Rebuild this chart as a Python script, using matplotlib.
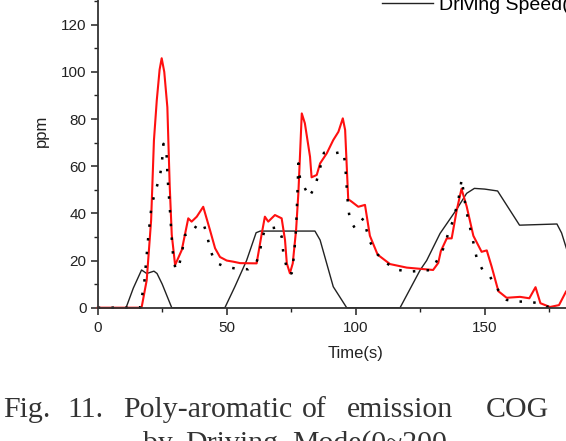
import numpy as np
import matplotlib
matplotlib.use("Agg")
import matplotlib.pyplot as plt
from matplotlib.ticker import MultipleLocator

# ===== data =====
speed_t = [0, 11, 13.8, 17, 19, 21.8, 23, 25, 28.7, 49.3, 53.2, 57.7, 61.4, 63, 84.2,
           86.2, 91.3, 96.5, 117.2, 125, 127.5, 132.7, 139, 143, 146, 150, 155,
           163.5, 178, 179.8, 182]
speed_v = [0, 0, 8.3, 16, 14.5, 15.5, 14.5, 10, 0, 0, 9, 20, 31.8, 32.5, 32.5,
           28.7, 8.9, 0, 0, 16, 20, 31.5, 41.5, 48.5, 50.6, 50.3, 49.5,
           35, 35.5, 31.7, 24]

red_t = [0, 17, 19, 20.7, 21.8, 22.9, 24, 24.8, 25.8, 27, 27.9, 28.7, 30, 32.6, 35.1,
         36.4, 38.4, 40.9, 43.5, 45.5, 47.4, 50, 52.6, 55.2, 61.6, 63.6, 64.8, 66.1,
         68.7, 71.3, 72.6, 73.3, 74.5, 75.6, 76.9, 77.8, 79.1, 80.3, 82.3, 82.9, 84.9,
         86.2, 88.8, 91.3, 93.3, 95, 95.9, 97.1, 98.4, 101, 103.6, 105.5, 108.5, 113.3,
         119.8, 130, 132, 133, 135.3, 137.2, 139.1, 141, 143, 145.6, 148.8, 150.8,
         152.7, 155.3, 158.5, 163.7, 167.3, 169.7, 171.6, 175.3, 178.8, 181.5]
red_v = [0, 0, 11.7, 37, 71, 88, 101, 105.8, 100, 85, 52, 31, 18.1, 24.5, 37.9,
         36.5, 38.6, 42.8, 33, 25.2, 21.5, 20, 19.5, 18.9, 18.8, 31.5, 38.6, 36.5,
         39.3, 37.9, 28.7, 18.8, 14.6, 18.8, 33, 49, 82.4, 78.2, 64, 55.3, 56.3,
         61.2, 65.5, 71.1, 74.6, 80.3, 75.4, 46, 45, 42.8, 43.6, 30.5, 22.5, 18.5,
         17, 16, 19, 24, 29.4, 29.4, 41, 50.4, 43, 30.5, 23.7, 24.3,
         17.4, 7, 4.2, 4.6, 4, 8.7, 1.9, 0.3, 1.1, 6.8]

dot_t = [0, 16.4, 18, 19.6, 20.9, 22.9, 24.1, 24.8, 25.5, 26.7, 27.1, 28, 28.7, 29.3,
         30.2, 31.2, 32.6, 33.8, 36.4, 38.4, 40.9, 42.2, 43.5, 44.8, 47, 49.3, 54,
         58.4, 61.6, 62.9, 63.6, 64.8, 67.4, 69.6, 71.3, 71.9, 73, 73.9, 75.2, 76.1,
         76.9, 77.4, 77.8, 78.4, 80, 82, 84.2, 85.5, 87.7, 92, 95.2, 95.9, 96.5, 97.1,
         97.8, 99.7, 103, 104.3, 105.5, 108.1, 112, 116.5, 121, 129.5, 132, 134, 135.9,
         137.8, 139.8, 141.1, 142.4, 143.6, 145, 146.9, 149.5, 152.1, 154.7, 158.5,
         162.4, 166.9, 170.8, 174, 178]
dot_v = [0, 0, 10, 30, 43.6, 51.3, 55.7, 60.5, 69.5, 64.8, 55, 41.4, 29.4, 21,
         16.3, 16.3, 23, 30.8, 31.6, 35, 35.8, 31.6, 25.2, 21, 18.5, 17.4, 16.5,
         16.3, 19.5, 23.7, 28.7, 33.2, 33.7, 34.1, 30.1, 23.7, 18.1, 14.3, 14.6, 22.3,
         33.7, 48, 61.2, 54.9, 51.3, 47, 51.3, 56.3, 65.7, 65.5, 66.2, 61.2, 51.3, 42.2,
         37.2, 33.7, 37.9, 32.5, 28, 23, 18.8, 16, 15.3, 16, 21, 25.2, 31.6,
         37.2, 45.7, 54.6, 44.3, 37.2, 30.8, 21, 15.3, 13.1, 8.2, 3.3,
         2.6, 2.6, 1.9, 0.4, 1]

x_ticks = [0, 50, 100, 150]
y_ticks = [0, 20, 40, 60, 80, 100, 120]

caption1 = [("Fig.", 3), ("11.", 67), ("Poly-aromatic", 123), ("of", 302),
            ("emission", 347), ("COG", 486)]
caption2 = [("by", 143), ("Driving", 185), ("Mode(0~200", 292)]

# ===== figure =====
plt.rcParams['font.family'] = ['Liberation Sans', 'DejaVu Sans']
W, H = 566, 441
fig = plt.figure(figsize=(W / 100, H / 100), dpi=100)
ax = fig.add_axes([97.7 / W, 1 - 307.7 / H, 200 * 2.58 / W, 150 * 2.358 / H])

ink = '#222222'
spd, = ax.plot(speed_t, speed_v, color=ink, lw=1.0, clip_on=False,
               label='Driving Speed(km/h)')
ax.plot(red_t, red_v, color='#ff1010', lw=1.5, clip_on=False)
ax.plot(dot_t, dot_v, color='black', lw=1.8, linestyle=(0, (1, 4.5)), clip_on=False)

ax.set_xlim(0, 200)
ax.set_ylim(0, 150)
ax.set_xticks(x_ticks)
ax.set_yticks(y_ticks)
ax.xaxis.set_minor_locator(MultipleLocator(25))
ax.yaxis.set_minor_locator(MultipleLocator(10))
ax.tick_params(which='major', direction='out', length=5, width=1.1, colors=ink,
               labelsize=11, top=False, right=False)
ax.tick_params(axis='x', which='major', pad=4.5)
ax.tick_params(axis='y', which='major', pad=3)
ax.tick_params(which='minor', direction='out', length=2.8, width=1.0, colors=ink,
               top=False, right=False)
for s in ax.spines.values():
    s.set_linewidth(1.3)
    s.set_color('#333333')

ax.set_xlabel('Time(s)', fontsize=12, color=ink, labelpad=8)
ax.set_ylabel('ppm', fontsize=12, color=ink, labelpad=9)

ax.legend(handles=[spd], loc='center left', bbox_to_anchor=(382 / W, 1 - 5 / H),
          bbox_transform=fig.transFigure, frameon=False, borderpad=0,
          borderaxespad=0, handlelength=2.6, handletextpad=0.33, fontsize=14)

for word, px in caption1:
    fig.text(px / W, 1 - 417 / H, word, family='Liberation Serif', fontsize=21.5,
             color='#333333', va='baseline', ha='left')
for word, px in caption2:
    fig.text(px / W, 1 - 451 / H, word, family='Liberation Serif', fontsize=21.5,
             color='#333333', va='baseline', ha='left')

fig.savefig('out.png', dpi=100)
